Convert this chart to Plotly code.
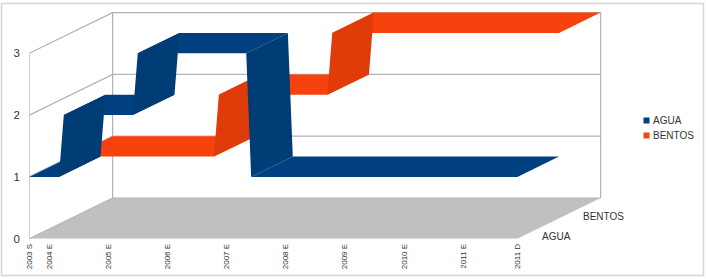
import plotly.graph_objects as go

# Data
TICK_MONTHS = [0, 4, 16, 28, 40, 52, 64, 76, 88, 99]  # months since 2003-09
TICK_LABELS = ["2003 S", "2004 E", "2005 E", "2006 E", "2007 E", "2008 E",
               "2009 E", "2010 E", "2011 E", "2011 D"]
VALUE_TICKS = [0, 1, 2, 3]

AGUA_MONTHS = [0, 6, 7, 21, 22, 44, 45, 99]
AGUA_VALUES = [1, 1, 2, 2, 3, 3, 1, 1]
BENTOS_MONTHS = [0, 29, 30, 52, 53, 99]
BENTOS_VALUES = [1, 1, 2, 2, 3, 3]
SERIES_NAMES = ["AGUA", "BENTOS"]

# Style / layout
W, H = 706, 279
PX_X0, PX_Y0 = 29.3, 238.7      # pixel of month 0 / value 0, front plane
PX_MONTH, PX_VALUE = 4.93, 61.8
PX_RIGHT, PX_TOP = 606.0, 8.0
DEPTH_M = 83.3 / PX_MONTH       # oblique depth, in axis units
DEPTH_V = 40.7 / PX_VALUE
GRID = "#b3b3b3"
FLOOR = "#c0c0c0"
FRAME = "#d6d6d6"
TEXT = "#333333"
FONT = "Liberation Sans"
COLORS = {"AGUA": ("#004080", "#003c76"), "BENTOS": ("#f8420e", "#e03c0a")}
MAX_M = max(TICK_MONTHS)
MAX_V = max(VALUE_TICKS)


def proj(month, value, depth):
    return month + depth * DEPTH_M, value + depth * DEPTH_V


fig = go.Figure()


def poly(points, color):
    xs, ys = zip(*points)
    fig.add_trace(go.Scatter(x=xs, y=ys, mode="lines", fill="toself", fillcolor=color,
                             line=dict(width=0, color=color), hoverinfo="skip",
                             showlegend=False))


def line(points):
    xs, ys = zip(*points)
    fig.add_trace(go.Scatter(x=xs, y=ys, mode="lines", line=dict(width=1.2, color=GRID),
                             hoverinfo="skip", showlegend=False))


# Floor
poly([proj(0, 0, 0), proj(0, 0, 1), proj(MAX_M, 0, 1), proj(MAX_M, 0, 0)], FLOOR)

# Walls and grid
for v in VALUE_TICKS:
    line([proj(0, v, 0), proj(0, v, 1), proj(MAX_M, v, 1)])
line([proj(0, 0, 1), proj(0, MAX_V, 1)])
line([proj(MAX_M, 0, 1), proj(MAX_M, MAX_V, 1)])
line([proj(0, 0, 0), proj(0, MAX_V, 0)])


def ribbon(name, months, values, d0, d1):
    flat, rise = [], []
    for i in range(len(months) - 1):
        quad = [proj(months[i], values[i], d0), proj(months[i + 1], values[i + 1], d0),
                proj(months[i + 1], values[i + 1], d1), proj(months[i], values[i], d1)]
        (flat if values[i] == values[i + 1] else rise).append(quad)
    for quads, color in ((flat, COLORS[name][0]), (rise, COLORS[name][1])):
        xs, ys = [], []
        for q in quads:
            xs += [p[0] for p in q] + [q[0][0], None]
            ys += [p[1] for p in q] + [q[0][1], None]
        fig.add_trace(go.Scatter(x=xs, y=ys, mode="lines", fill="toself", fillcolor=color,
                                 line=dict(width=0, color=color), name=name,
                                 hoverinfo="skip", showlegend=False))


ribbon("BENTOS", BENTOS_MONTHS, BENTOS_VALUES, 0.5, 1.0)
ribbon("AGUA", AGUA_MONTHS, AGUA_VALUES, 0.0, 0.5)

annotations = []
# Depth-axis labels
for name, d, dy in zip(SERIES_NAMES, (0.25, 0.75), (-7.5, -8)):
    px, py = proj(MAX_M, 0, d)
    annotations.append(dict(x=px, y=py, xref="x", yref="y", text=name, showarrow=False,
                            xanchor="left", yanchor="middle", xshift=1.5, yshift=dy,
                            font=dict(family=FONT, size=10, color=TEXT)))

shapes = [dict(type="rect", xref="paper", yref="paper", x0=1.5 / W, x1=703.5 / W,
               y0=1 - 275.5 / H, y1=1 - 3.5 / H, line=dict(color=FRAME, width=1.5),
               layer="below")]
# Key
for name, py in zip(SERIES_NAMES, (120.5, 135.5)):
    annotations.append(dict(x=652 / W, y=1 - py / H, xref="paper", yref="paper", text=name,
                            showarrow=False, xanchor="left", yanchor="middle",
                            font=dict(family=FONT, size=10, color=TEXT), xshift=-1))
    shapes.append(dict(type="rect", xref="paper", yref="paper", x0=643.5 / W, x1=649.5 / W,
                       y0=1 - (py + 3) / H, y1=1 - (py - 3) / H,
                       fillcolor=COLORS[name][0], line=dict(width=0)))

fig.update_layout(
    width=W, height=H, margin=dict(l=0, r=0, t=0, b=0, autoexpand=False),
    paper_bgcolor="white", plot_bgcolor="white", showlegend=False,
    annotations=annotations, shapes=shapes,
    xaxis=dict(domain=[PX_X0 / W, PX_RIGHT / W], automargin=False,
               range=[0, (PX_RIGHT - PX_X0) / PX_MONTH],
               tickmode="array", tickvals=TICK_MONTHS, ticktext=TICK_LABELS, tickangle=-90,
               ticks="outside", ticklen=1, tickcolor="rgba(0,0,0,0)",
               tickfont=dict(family=FONT, size=8, color=TEXT),
               showgrid=False, zeroline=False, showline=False, fixedrange=True),
    yaxis=dict(domain=[1 - PX_Y0 / H, 1 - PX_TOP / H], automargin=False,
               range=[0, (PX_Y0 - PX_TOP) / PX_VALUE],
               tickmode="array", tickvals=VALUE_TICKS,
               ticks="outside", ticklen=6, tickcolor="rgba(0,0,0,0)",
               tickfont=dict(family=FONT, size=11.5, color=TEXT),
               showgrid=False, zeroline=False, showline=False, fixedrange=True),
)

fig.write_html("out.html", config={"displayModeBar": False},
               post_script="document.body.style.margin='0';document.body.style.overflow='hidden';")
